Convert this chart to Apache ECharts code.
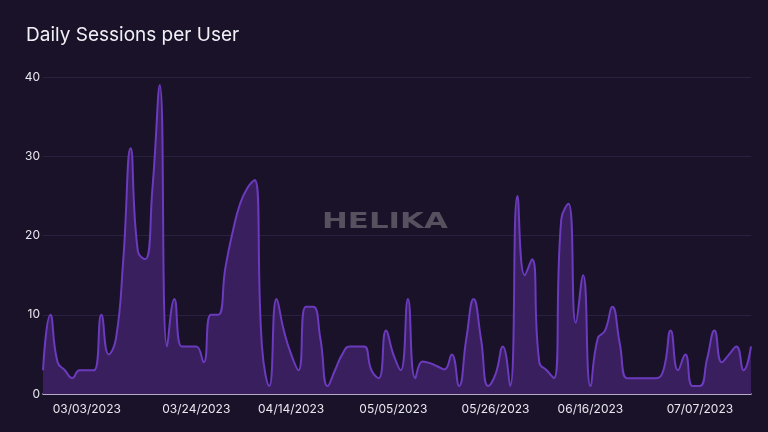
<!DOCTYPE html>
<html>
<head>
<meta charset="utf-8">
<script src="https://cdn.jsdelivr.net/npm/echarts@6/dist/echarts.min.js"></script>
<style>
html,body{margin:0;padding:0;background:#191229;}
#chart{width:768px;height:432px;}
</style>
</head>
<body>
<div id="chart"></div>
<script>
const dates = [
  '02/22/2023','02/23/2023','02/25/2023','02/26/2023','02/28/2023','03/01/2023',
  '03/03/2023','03/04/2023','03/06/2023','03/07/2023','03/08/2023','03/10/2023','03/11/2023','03/12/2023',
  '03/14/2023','03/15/2023','03/16/2023','03/18/2023','03/19/2023','03/20/2023','03/22/2023',
  '03/24/2023','03/26/2023','03/28/2023','03/29/2023','03/31/2023','04/02/2023','04/03/2023','04/05/2023',
  '04/07/2023','04/08/2023','04/10/2023','04/11/2023','04/12/2023',
  '04/14/2023','04/15/2023','04/17/2023','04/18/2023','04/20/2023','04/21/2023','04/23/2023','04/24/2023',
  '04/26/2023','04/27/2023','04/29/2023','04/30/2023','05/02/2023','05/03/2023',
  '05/05/2023','05/06/2023','05/08/2023','05/09/2023','05/11/2023','05/12/2023','05/14/2023','05/15/2023',
  '05/17/2023','05/18/2023','05/20/2023','05/21/2023','05/23/2023','05/24/2023',
  '05/26/2023','05/28/2023','05/30/2023','05/31/2023','06/02/2023','06/04/2023','06/05/2023','06/07/2023',
  '06/09/2023','06/10/2023','06/12/2023','06/13/2023','06/14/2023',
  '06/16/2023','06/17/2023','06/19/2023','06/20/2023','06/21/2023','06/23/2023','06/24/2023','06/25/2023',
  '06/27/2023','06/28/2023','06/29/2023','07/01/2023','07/02/2023','07/03/2023','07/05/2023',
  '07/07/2023','07/08/2023','07/10/2023','07/11/2023','07/13/2023','07/14/2023','07/16/2023','07/17/2023'
];
const sessions = [
  3, 10, 4, 3, 2, 3,
  3, 3, 10, 5, 7, 17, 31, 18,
  17, 26, 39, 6, 12, 6, 6,
  6, 4, 10, 10, 16, 20.5, 24, 26,
  27, 6, 1, 12, 8,
  5, 3, 11, 11, 7, 1, 3, 5,
  6, 6, 6, 3, 2, 8,
  5, 3, 12, 2, 4.1, 3.9, 3.5, 3.1,
  5, 1, 7, 12, 7, 1,
  2.5, 6, 1, 25, 15, 17, 4, 3,
  2, 22, 24, 9, 15,
  1, 7, 8, 11, 6.5, 2, 2, 2,
  2, 2, 3, 8, 3, 5, 1,
  1, 4.5, 8, 4, 5, 6, 3, 6
];
const tickLabels = ['03/03/2023','03/24/2023','04/14/2023','05/05/2023','05/26/2023','06/16/2023','07/07/2023'];
const yTicks = [0, 10, 20, 30, 40];

const chart = echarts.init(document.getElementById('chart'), null, {renderer: 'canvas'});
chart.setOption({
  backgroundColor: '#191229',
  animation: false,
  title: {
    text: 'Daily Sessions per User',
    left: 21,
    top: 21,
    textStyle: {color: '#f2f0f7', fontSize: 19, fontWeight: 'normal', fontFamily: 'Inter'}
  },
  grid: {left: 43, right: 17, top: 77, bottom: 38},
  graphic: [{
    type: 'text',
    x: 322,
    y: 212,
    scaleX: 1.47,
    silent: true,
    style: {
      text: 'HELIKA',
      fill: '#56505f',
      font: 'bold 21px "DejaVu Sans"',
      textVerticalAlign: 'top'
    }
  }],
  xAxis: {
    type: 'category',
    data: dates,
    boundaryGap: false,
    axisLine: {show: true, lineStyle: {color: '#e4dcf3', width: 1.5}},
    axisTick: {show: false},
    splitLine: {show: false},
    axisLabel: {
      color: '#e8e6ee',
      fontSize: 12,
      fontFamily: 'Inter',
      margin: 9,
      hideOverlap: false,
      interval: function (idx, val) { return tickLabels.indexOf(val) >= 0; }
    }
  },
  yAxis: {
    type: 'value',
    min: yTicks[0],
    max: yTicks[yTicks.length - 1],
    interval: 10,
    axisLine: {show: false},
    axisTick: {show: false},
    splitLine: {lineStyle: {color: '#2a2140', width: 1}},
    axisLabel: {color: '#e8e6ee', fontSize: 12, fontFamily: 'Inter', margin: 3}
  },
  series: [{
    type: 'line',
    data: sessions,
    smooth: 0.5,
    symbol: 'none',
    lineStyle: {color: '#6b3abd', width: 2},
    areaStyle: {color: '#391f5e', opacity: 1}
  }]
});
</script>
</body>
</html>
